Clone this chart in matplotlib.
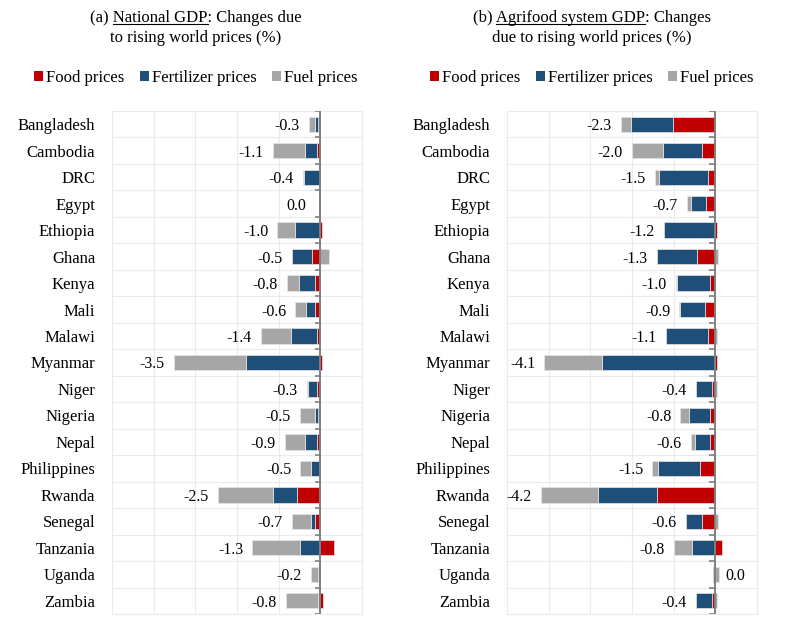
import numpy as np
from matplotlib import pyplot as plt
from matplotlib.patches import Patch
from matplotlib.lines import Line2D

plt.rcParams['font.family'] = ['Liberation Serif', 'DejaVu Serif']

countries = ["Bangladesh", "Cambodia", "DRC", "Egypt", "Ethiopia", "Ghana", "Kenya",
             "Mali", "Malawi", "Myanmar", "Niger", "Nigeria", "Nepal", "Philippines",
             "Rwanda", "Senegal", "Tanzania", "Uganda", "Zambia"]

# (a) national GDP, % change
gdp_food = [-0.05, -0.09, 0.0, 0.0, 0.04, -0.21, -0.14, -0.12, -0.09, 0.03,
            -0.08, -0.05, -0.09, -0.04, -0.55, -0.12, 0.32, -0.05, 0.06]
gdp_fert = [-0.09, -0.27, -0.39, 0.0, -0.60, -0.48, -0.37, -0.22, -0.62, -1.78,
            -0.22, -0.07, -0.28, -0.18, -0.58, -0.10, -0.50, 0.0, -0.05]
gdp_fuel = [-0.14, -0.77, -0.02, 0.0, -0.43, 0.20, -0.30, -0.26, -0.71, -1.74,
            -0.02, -0.37, -0.48, -0.26, -1.33, -0.46, -1.13, -0.17, -0.77]
gdp_labels = ["-0.3", "-1.1", "-0.4", "0.0", "-1.0", "-0.5", "-0.8", "-0.6", "-1.4", "-3.5",
              "-0.3", "-0.5", "-0.9", "-0.5", "-2.5", "-0.7", "-1.3", "-0.2", "-0.8"]

# (b) agrifood system GDP, % change
agr_food = [-1.02, -0.32, -0.17, -0.23, 0.05, -0.44, -0.13, -0.24, -0.17, 0.04,
            -0.07, -0.13, -0.13, -0.37, -1.41, -0.31, 0.17, 0.0, -0.08]
agr_fert = [-1.00, -0.93, -1.19, -0.36, -1.24, -0.97, -0.80, -0.60, -1.02, -2.73,
            -0.40, -0.51, -0.36, -1.00, -1.41, -0.39, -0.56, -0.06, -0.38]
agr_fuel = [-0.24, -0.76, -0.09, -0.10, 0.0, 0.07, -0.02, -0.02, 0.05, -1.37,
            0.04, -0.20, -0.09, -0.14, -1.36, 0.06, -0.43, 0.09, 0.05]
agr_labels = ["-2.3", "-2.0", "-1.5", "-0.7", "-1.2", "-1.3", "-1.0", "-0.9", "-1.1", "-4.1",
              "-0.4", "-0.8", "-0.6", "-1.5", "-4.2", "-0.6", "-0.8", "0.0", "-0.4"]

series_names = ["Food prices", "Fertilizer prices", "Fuel prices"]
colors = ["#C00000", "#1F4E79", "#A6A6A6"]

fig = plt.figure(figsize=(7.87, 6.33), dpi=100)
ax1 = fig.add_axes([112 / 787, 19 / 633, 250 / 787, 503 / 633])
ax2 = fig.add_axes([507 / 787, 19 / 633, 250 / 787, 503 / 633])


def draw_panel(ax, parts, labels):
    y = np.arange(len(countries))
    neg = np.zeros(len(countries))
    pos = np.zeros(len(countries))
    for vals, c in zip(parts, colors):
        v = np.array(vals)
        left = np.where(v < 0, neg, pos)
        ax.barh(y, v, left=left, height=0.58, color=c, edgecolor='#E6E6E6',
                linewidth=0.5, zorder=3)
        neg = neg + np.where(v < 0, v, 0)
        pos = pos + np.where(v > 0, v, 0)
    for i, lab in enumerate(labels):
        if lab.startswith("-"):
            ax.text(neg[i] - 0.22, y[i], lab, ha='right', va='center_baseline', fontsize=11.5)
        else:
            if pos[i] > 0:
                ax.text(pos[i] + 0.15, y[i], lab, ha='left', va='center_baseline', fontsize=11.5)
            else:
                ax.text(-0.33, y[i], lab, ha='right', va='center_baseline', fontsize=11.5)
    ax.set_xlim(-5, 1)
    ax.set_ylim(len(countries) - 0.5, -0.5)
    ax.set_xticks(np.arange(-5, 2, 1))
    ax.set_xticklabels([])
    ax.tick_params(axis='x', length=0)
    ax.set_yticks(y)
    ax.set_yticklabels(countries, fontsize=12)
    ax.set_yticks(np.arange(-0.5, len(countries), 1), minor=True)
    ax.tick_params(axis='y', which='both', length=0, pad=12)
    ax.grid(True, axis='x', color='#EBEBEB', linewidth=0.8, zorder=0)
    ax.grid(True, axis='y', which='minor', color='#EBEBEB', linewidth=0.8, zorder=0)
    for s in ax.spines.values():
        s.set_color('#EBEBEB')
        s.set_linewidth(0.8)
    ax.axvline(0, color='#808080', linewidth=1.4, zorder=4)
    ax.hlines(np.arange(-0.5, len(countries), 1), -0.14, 0, color='#808080',
              linewidth=1.2, zorder=4)


draw_panel(ax1, [gdp_food, gdp_fert, gdp_fuel], gdp_labels)
draw_panel(ax2, [agr_food, agr_fert, agr_fuel], agr_labels)

handles = [Patch(facecolor=c, edgecolor='none') for c in colors]
for cx in [196 / 787, 592 / 787]:
    fig.legend(handles, series_names, loc='center', bbox_to_anchor=(cx, 1 - 78 / 633),
               ncol=3, frameon=False, fontsize=12, handlelength=0.55, handleheight=0.55,
               handletextpad=0.2, columnspacing=0.9, borderaxespad=0)

# titles with underlined part
titles = [("(a) ", "National GDP", ": Changes due", "to rising world prices (%)", 196),
          ("(b) ", "Agrifood system GDP", ": Changes", "due to rising world prices (%)", 592)]
fig.canvas.draw()
renderer = fig.canvas.get_renderer()
for pre, under, post, line2, cx in titles:
    x = cx / 787
    t1 = fig.text(x, 1 - 18 / 633, pre + under + post, ha='center', va='center', fontsize=12)
    fig.text(x, 1 - 38 / 633, line2, ha='center', va='center', fontsize=12)
    bb = t1.get_window_extent(renderer)
    tmp_a = fig.text(0, 0, pre + under, fontsize=12)
    tmp_b = fig.text(0, 0, under, fontsize=12)
    wa = tmp_a.get_window_extent(renderer).width
    wb = tmp_b.get_window_extent(renderer).width
    tmp_a.remove()
    tmp_b.remove()
    x0 = bb.x0 + wa - wb
    x1 = bb.x0 + wa
    yl = bb.y0 + 2.5
    fig.add_artist(Line2D([x0 / 787, x1 / 787], [yl / 633, yl / 633], color='black',
                          linewidth=0.8, transform=fig.transFigure))

fig.savefig("out.png", dpi=100)
